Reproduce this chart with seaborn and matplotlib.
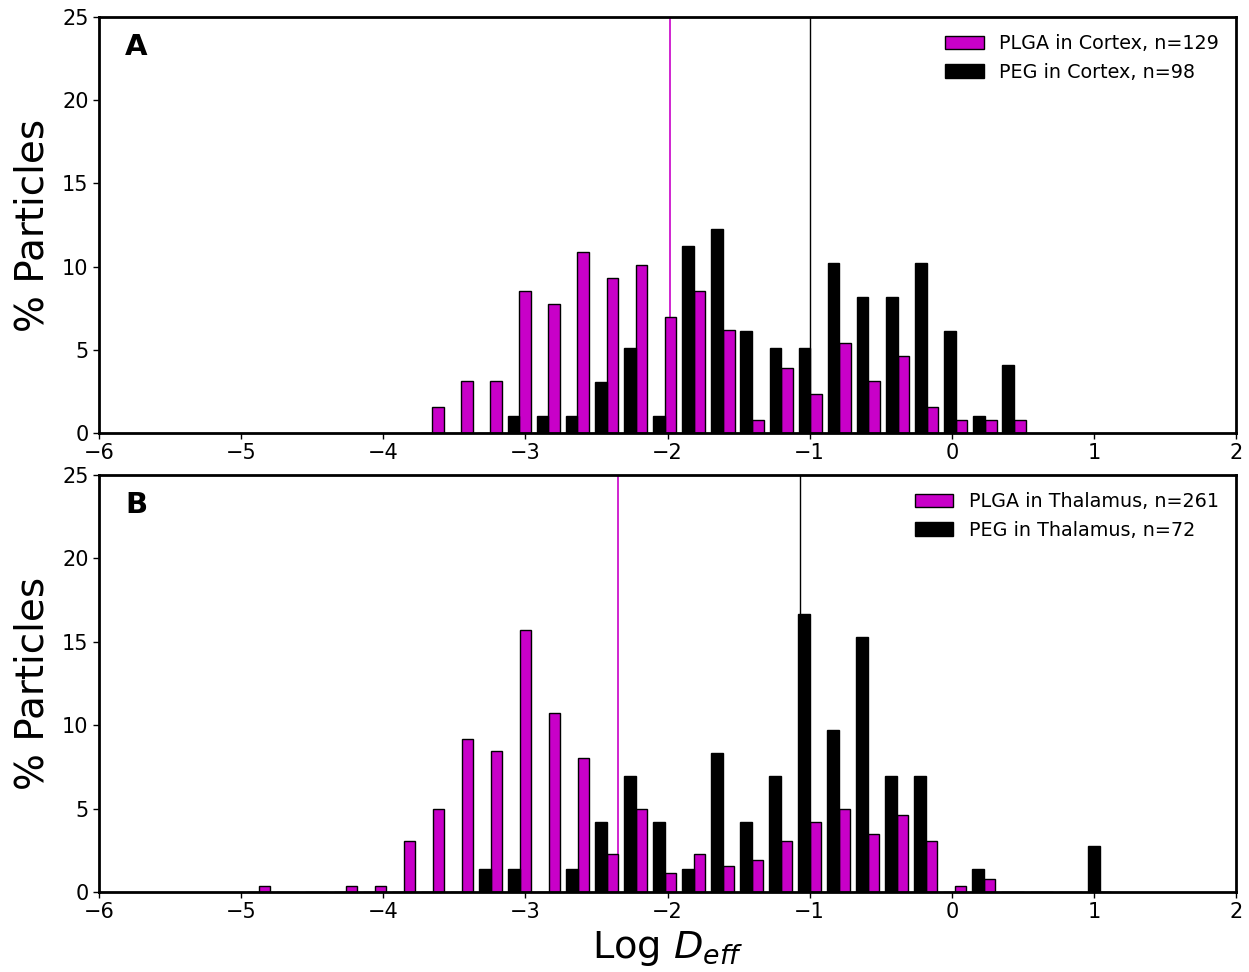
import numpy as np
import pandas as pd
import matplotlib
matplotlib.use("Agg")
import matplotlib.pyplot as plt
import seaborn as sns
from matplotlib.patches import Patch

# ---------------- data (percent of particles per log-Deff bin) ----------------
# Panel A: cortex, 21 bins
a_first_edge = -3.7604
a_bin_width = 0.2048
a_plga_pct = [1.55, 3.10, 3.10, 8.53, 7.75, 10.85, 9.30, 10.08, 6.98, 8.53, 6.20,
              0.78, 3.88, 2.33, 5.43, 3.10, 4.65, 1.55, 0.78, 0.78, 0.78]
a_peg_pct = [0, 0, 0, 1.02, 1.02, 1.02, 3.06, 5.10, 1.02, 11.22, 12.24,
             6.12, 5.10, 5.10, 10.20, 8.16, 8.16, 10.20, 6.12, 1.02, 4.08]
a_plga_mean = -1.985
a_peg_mean = -0.998
a_labels = ["PLGA in Cortex, n=129", "PEG in Cortex, n=98"]

# Panel B: thalamus, 30 bins
b_first_edge = -4.980
b_bin_width = 0.2041
b_plga_pct = [0.38, 0, 0, 0.38, 0.38, 3.07, 4.98, 9.20, 8.43, 15.71, 10.73,
              8.05, 2.30, 4.98, 1.15, 2.30, 1.53, 1.92, 3.07, 4.21, 4.98,
              3.45, 4.60, 3.07, 0.38, 0.77, 0, 0, 0, 0]
b_peg_pct = [0, 0, 0, 0, 0, 0, 0, 0, 1.39, 1.39, 0,
             1.39, 4.17, 6.94, 4.17, 1.39, 8.33, 4.17, 6.94, 16.67, 9.72,
             15.28, 6.94, 6.94, 0, 1.39, 0, 0, 0, 2.78]
b_plga_mean = -2.345
b_peg_mean = -1.068
b_labels = ["PLGA in Thalamus, n=261", "PEG in Thalamus, n=72"]

x_ticks = [-6, -5, -4, -3, -2, -1, 0, 1, 2]
y_ticks = [0, 5, 10, 15, 20, 25]

MAG = "#c800c8"
BLK = "#000000"

sns.set_style("ticks")
plt.rcParams["font.family"] = ["DejaVu Sans"]
plt.rcParams.update({"text.color": "black", "axes.labelcolor": "black",
                     "xtick.color": "black", "ytick.color": "black",
                     "axes.edgecolor": "black"})

fig = plt.figure(figsize=(12.49, 9.72), dpi=100)
axA = fig.add_axes([0.0793, 0.5545, 0.9103, 0.4280])
axB = fig.add_axes([0.0793, 0.0823, 0.9103, 0.4290])


def panel(ax, first_edge, width, plga, peg, plga_mean, peg_mean, labels, letter):
    n = len(plga)
    edges = first_edge + width * np.arange(n + 1)
    centers = edges[:-1] + width / 2
    df = pd.DataFrame({
        "x": np.concatenate([centers, centers]),
        "pct": np.concatenate([peg, plga]),
        "grp": ["PEG"] * n + ["PLGA"] * n,
    })
    sns.histplot(data=df, x="x", weights="pct", hue="grp",
                 hue_order=["PEG", "PLGA"],
                 palette={"PEG": BLK, "PLGA": MAG},
                 bins=list(edges), multiple="dodge", shrink=0.8, stat="count",
                 alpha=1, edgecolor="black", linewidth=1.0, legend=False, ax=ax)
    ax.axvline(plga_mean, color=MAG, lw=1.2, zorder=0.5)
    ax.axvline(peg_mean, color=BLK, lw=1.0, zorder=0.5)
    ax.set_xlim(-6, 2)
    ax.set_ylim(0, 25)
    ax.set_xticks(x_ticks)
    ax.set_yticks(y_ticks)
    ax.tick_params(labelsize=15, length=4, width=1, direction="out",
                   colors="black")
    for s in ax.spines.values():
        s.set_visible(True)
        s.set_linewidth(2)
        s.set_color("black")
    ax.set_ylabel("% Particles", fontsize=28, labelpad=8)
    ax.set_xlabel("")
    ax.text(0.023, 0.962, letter, transform=ax.transAxes, fontsize=21,
            fontweight="bold", va="top", ha="left", color="black")
    handles = [Patch(facecolor=MAG, edgecolor="black", linewidth=1.0),
               Patch(facecolor=BLK, edgecolor="black", linewidth=1.0)]
    ax.legend(handles, labels, loc="upper right", frameon=False, fontsize=13.8)


panel(axA, a_first_edge, a_bin_width, a_plga_pct, a_peg_pct,
      a_plga_mean, a_peg_mean, a_labels, "A")
panel(axB, b_first_edge, b_bin_width, b_plga_pct, b_peg_pct,
      b_plga_mean, b_peg_mean, b_labels, "B")
axB.set_xlabel(r"Log $D_{eff}$", fontsize=27.5, labelpad=5)

fig.savefig("out.png", dpi=100)
